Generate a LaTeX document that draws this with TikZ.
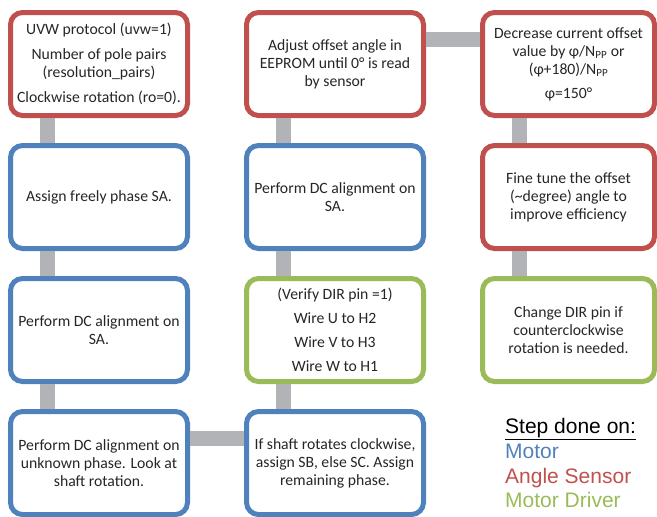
\documentclass[tikz,border=0pt]{standalone}
\usepackage{fontspec}
\setmainfont{Carlito}
\newfontfamily\legendfont{Liberation Sans}
\usetikzlibrary{positioning}
\definecolor{motorblue}{RGB}{79,129,189}
\definecolor{sensorred}{RGB}{192,80,77}
\definecolor{drivergreen}{RGB}{155,187,89}
\definecolor{linkgrey}{RGB}{178,179,183}
\definecolor{textgrey}{RGB}{38,38,38}
\tikzset{
stepbox/.style={draw, line width=5pt, rounded corners=12pt, fill=white, text=textgrey, align=center, minimum width=177pt, minimum height=103pt, inner sep=2pt, font=\fontsize{15.7pt}{18pt}\selectfont}, % common look of every step
motor/.style={stepbox, draw=motorblue}, % step done on the motor
sensor/.style={stepbox, draw=sensorred}, % step done on the angle sensor
driver/.style={stepbox, draw=drivergreen}, % step done on the motor driver
link/.style={draw=linkgrey, line width=15pt}, % the grey bars between steps
legend/.style={anchor=base west, inner sep=0pt, font=\legendfont\fontsize{21pt}{24.6pt}\selectfont}, % lines of the key
node distance=25pt and 54pt, % gap between the boxes
}
\begin{document}
\begin{tikzpicture}
        \useasboundingbox (0,0) rectangle (657pt,-517pt);

        % first column
        \node[sensor] (uvw) at (99pt,-64pt) {UVW protocol (uvw=1)\\[7pt] Number of pole pairs\\ (resolution\_pairs)\\[7pt] Clockwise rotation (ro=0).};
        \node[motor, below=of uvw] (assignA) {Assign freely phase SA.};
        \node[motor, below=of assignA] (alignA) {Perform DC alignment on\\ SA.};
        \node[motor, below=of alignA] (alignX) {Perform DC alignment on\\ unknown phase. Look at\\ shaft rotation.};

        % second column
        \node[motor, right=of alignX] (assignBC) {If shaft rotates clockwise,\\ assign SB, else SC. Assign\\ remaining phase.};
        \node[driver, above=of assignBC] (wire) {(Verify DIR pin =1)\\[6pt] Wire U to H2\\[6pt] Wire V to H3\\[6pt] Wire W to H1};
        \node[motor, above=of wire] (alignB) {Perform DC alignment on\\ SA.};
        \node[sensor, above=of alignB] (adjust) {Adjust offset angle in\\ EEPROM until 0° is read\\ by sensor};

        % third column
        \node[sensor, right=of adjust, minimum width=172pt] (decrease) {Decrease current offset\\ value by φ/N\textsubscript{PP} or\\ (φ+180)/N\textsubscript{PP}\\[6pt] φ=150°};
        \node[sensor, below=of decrease, minimum width=172pt] (tune) {Fine tune the offset\\ (\textasciitilde degree) angle to\\ improve efficiency};
        \node[driver, below=of tune, minimum width=172pt] (dir) {Change DIR pin if\\ counterclockwise\\ rotation is needed.};

        % connectors
        \foreach \a/\b in {uvw/assignA, assignA/alignA, alignA/alignX, adjust/alignB, alignB/wire, wire/assignBC, decrease/tune, tune/dir}
                \draw[link] ([xshift=39pt]\a.south west) -- ([xshift=39pt]\b.north west);
        \draw[link] ([yshift=-29pt]adjust.north east) -- ([yshift=-29pt]decrease.north west);
        \draw[link] ([yshift=-29pt]alignX.north east) -- ([yshift=-29pt]assignBC.north west);

        % key
        \node[legend] (keytitle) at (505pt,-433pt) {\underline{Step done on:}};
        \node[legend, text=motorblue] (keymotor) at (505pt,-458pt) {Motor};
        \node[legend, text=sensorred] (keysensor) at (505pt,-483pt) {Angle Sensor};
        \node[legend, text=drivergreen] (keydriver) at (505pt,-507pt) {Motor Driver};
\end{tikzpicture}
\end{document}
